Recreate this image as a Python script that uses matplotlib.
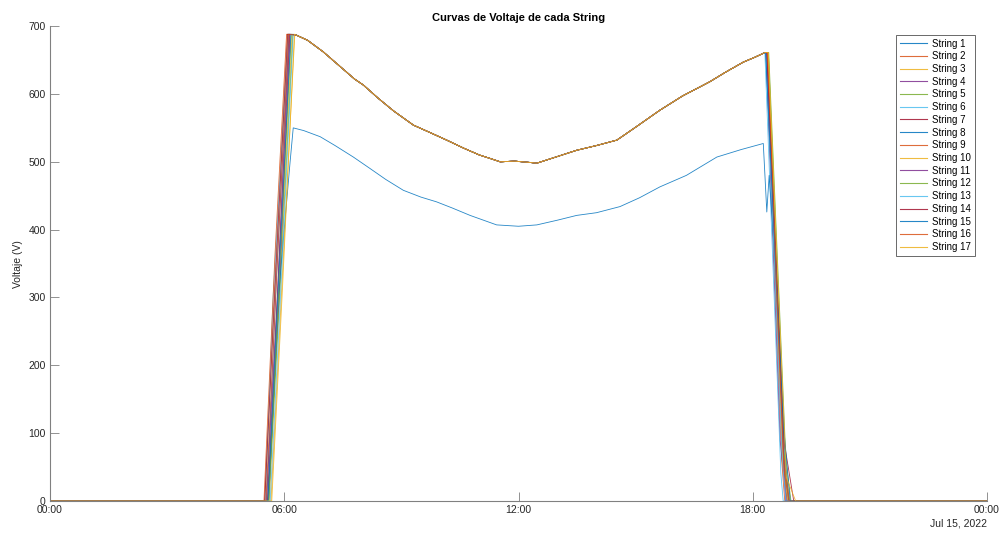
import matplotlib
matplotlib.use("Agg")
import matplotlib.pyplot as plt

plt.rcParams['font.family'] = ['Liberation Sans', 'DejaVu Sans']

# ---- data (hours of the day, volts) ----
names = [f"String {i}" for i in range(1, 18)]

# daytime voltage profile shared by the healthy strings
day_hours = [6.30, 6.60, 7.00, 7.40, 7.80, 8.03, 8.40, 8.80, 9.31, 9.70, 10.16,
             10.60, 11.00, 11.27, 11.53, 11.90, 12.30, 12.47, 12.90, 13.49,
             14.00, 14.52, 15.00, 15.62, 16.20, 16.90, 17.30, 17.76, 18.05, 18.31]
day_volts = [687, 679, 662, 642, 622, 613, 594, 575, 554, 544, 532,
             520, 510, 505, 500, 501, 499, 498, 506, 517,
             524, 532, 551, 576, 597, 618, 632, 647, 654, 661]

# ramp-up / ramp-down timing of each string (hours)
rise_start = [5.55, 5.50, 5.62, 5.58, 5.60, 5.52, 5.57, 5.63, 5.48, 5.66, 5.54, 5.60, 5.64, 5.50, 5.58, 5.53, 5.68]
rise_peak  = [6.12, 6.08, 6.20, 6.15, 6.22, 6.10, 6.14, 6.25, 6.06, 6.27, 6.12, 6.18, 6.23, 6.09, 6.17, 6.11, 6.26]
rise_mid_t = [5.80, 5.78, 5.90, 5.86, 5.90, 5.71, 5.84, 5.88, 5.76, 5.95, 5.83, 5.88, 5.92, 5.79, 5.86, 5.81, 5.96]
rise_mid_v = [330, 350, 340, 290, 320, 296, 320, 270, 360, 330, 310, 340, 320, 345, 330, 335, 320]
fall_start = [18.33, 18.35, 18.38, 18.34, 18.40, 18.31, 18.36, 18.32, 18.37, 18.39, 18.35, 18.41, 18.34, 18.36, 18.33, 18.38, 18.40]
fall_mid_t = [18.78, 18.74, 18.80, 18.70, 18.82, 18.72, 18.76, 18.83, 18.79, 18.77, 18.67, 18.85, 18.75, 18.81, 18.79, 18.80, 18.86]
fall_mid_v = [80, 60, 70, 90, 50, 40, 75, 100, 65, 55, 240, 60, 70, 85, 110, 45, 35]
fall_end   = [18.90, 18.82, 18.95, 18.86, 18.92, 18.78, 18.88, 19.02, 18.94, 18.90, 18.84, 18.98, 18.85, 19.05, 18.96, 18.93, 19.10]

# String 8 runs at a lower voltage all day
low_index = 7
low_hours = [0.0, 5.60, 5.85, 6.15, 6.23, 6.50, 6.92, 7.30, 7.77, 8.20, 8.60, 9.05, 9.50,
             9.90, 10.30, 10.76, 11.10, 11.44, 12.00, 12.47, 13.00, 13.49, 14.00,
             14.60, 15.10, 15.62, 16.30, 17.08, 17.70, 18.27, 18.36, 18.42,
             18.60, 18.80, 18.92, 24.0]
low_volts = [0, 0, 300, 500, 550, 546, 537, 524, 507, 490, 474, 458, 448,
             441, 432, 421, 414, 407, 405, 407, 414, 421, 425,
             434, 447, 463, 480, 507, 518, 527, 426, 480,
             330, 90, 0, 0]

colors = ['#0072BD', '#D95319', '#EDB120', '#7E2F8E', '#77AC30', '#4DBEEE', '#A2142F']

fig = plt.figure(figsize=(10, 5.33), dpi=100)
ax = fig.add_axes([0.05, 0.06, 0.937, 0.891])

for i, name in enumerate(names):
    if i == low_index:
        t, v = low_hours, low_volts
    else:
        t = [0.0, rise_start[i], rise_mid_t[i], rise_peak[i]] + day_hours + \
            [fall_start[i], fall_mid_t[i], fall_end[i], 24.0]
        v = [0, 0, rise_mid_v[i], 688] + day_volts + \
            [661, fall_mid_v[i], 0, 0]
    ax.plot(t, v, color=colors[i % 7], linewidth=0.6, alpha=0.85, label=name)

ax.set_xlim(0, 24)
ax.set_ylim(0, 700)
ax.set_xticks([0, 6, 12, 18, 24])
ax.set_xticklabels(['00:00', '06:00', '12:00', '18:00', '00:00'])
ax.set_yticks(range(0, 701, 100))

axis_col = '#262626'
for s in ['top', 'right']:
    ax.spines[s].set_visible(False)
for s in ['left', 'bottom']:
    ax.spines[s].set_color('#808080')
    ax.spines[s].set_linewidth(0.8)
ax.tick_params(direction='in', length=6.5, width=0.6, color='#808080',
               labelsize=7.5, labelcolor=axis_col, pad=3)

ax.set_ylabel('Voltaje (V)', fontsize=7.5, color=axis_col, labelpad=4)
ax.set_title('Curvas de Voltaje de cada String', fontsize=8, fontweight='bold',
             color='black', pad=4)
ax.text(1.0, -0.036, 'Jul 15, 2022', transform=ax.transAxes, ha='right', va='top',
        fontsize=7.5, color=axis_col)

leg = ax.legend(loc='upper right', bbox_to_anchor=(0.987, 0.982), fontsize=7,
                frameon=True, fancybox=False, handlelength=2.8, handletextpad=0.5,
                labelspacing=0.28, borderpad=0.4, borderaxespad=0.0)
leg.get_frame().set_edgecolor('#262626')
leg.get_frame().set_linewidth(0.6)
for line in leg.get_lines():
    line.set_linewidth(0.8)

fig.savefig('out.png', dpi=100)
